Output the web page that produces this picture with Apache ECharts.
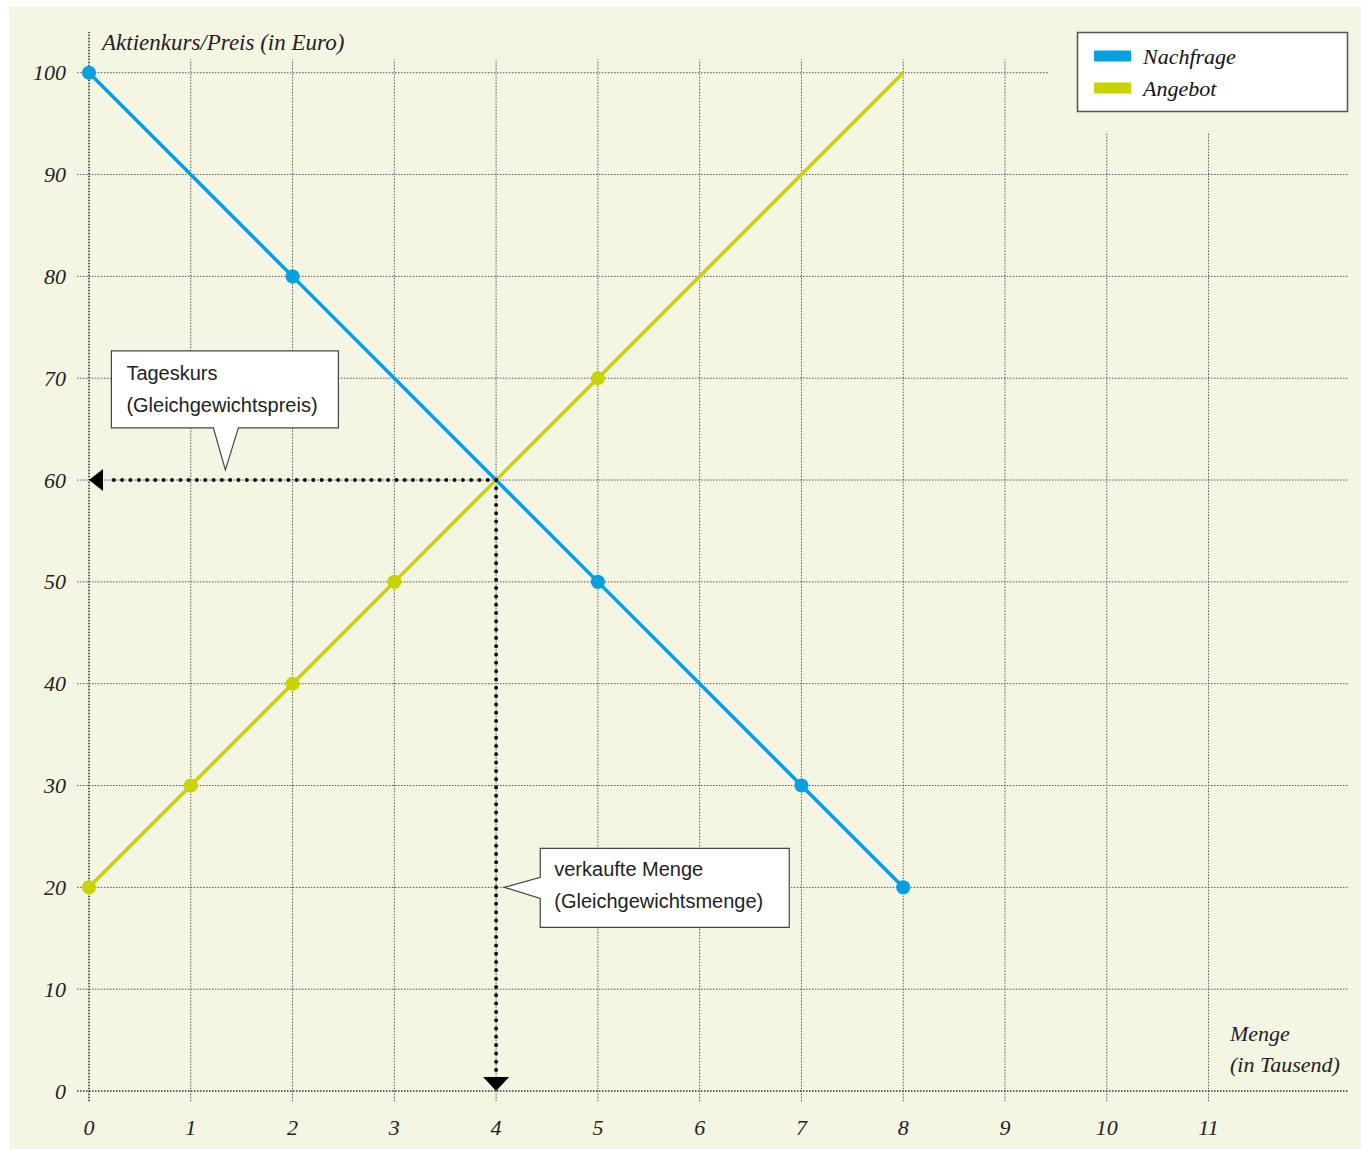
<!DOCTYPE html>
<html><head><meta charset="utf-8">
<script src="https://cdn.jsdelivr.net/npm/echarts@6/dist/echarts.min.js"></script>
<style>html,body{margin:0;padding:0;background:#fff}#c{width:1361px;height:1149px}</style>
</head><body><div id="c"></div>
<script>
// ---- data ----
const seriesNames = ['Nachfrage', 'Angebot'];
const demandQty = [0, 2, 5, 7, 8];
const demandPrice = [100, 80, 50, 30, 20];
const supplyQty = [0, 1, 2, 3, 5, 8];
const supplyPrice = [20, 30, 40, 50, 70, 100];
const supplyMarked = [true, true, true, true, true, false];
const xTicks = [0, 1, 2, 3, 4, 5, 6, 7, 8, 9, 10, 11];
const yTicks = [0, 10, 20, 30, 40, 50, 60, 70, 80, 90, 100];
const equilibrium = [4, 60];
const calloutAnchors = [[1.34, 61], [4.08, 20]];
const calloutTexts = [['Tageskurs', '(Gleichgewichtspreis)'], ['verkaufte Menge', '(Gleichgewichtsmenge)']];
const xName = 'Menge\n(in Tausend)';
const yName = 'Aktienkurs/Preis (in Euro)';

// ---- layout / style ----
const X_MAX = 12.38, Y_MAX = 104;
const BEIGE = '#f4f5e2';
const BLUE = '#069fe0', YELLOW = '#c8d300';
const SERIF = '"Liberation Serif", "DejaVu Serif", serif';
const SANS = '"Liberation Sans", Arial, sans-serif';

const gridSegs = [];
xTicks.forEach(x => gridSegs.push([x, -1, x, x === 0 ? Y_MAX : 101.3, x === 0 ? 1 : 0]));
yTicks.forEach(y => gridSegs.push([-0.118, y, X_MAX, y, y === 0 ? 1 : 0]));

const arrowSegs = [
  [equilibrium[0], equilibrium[1], 0, equilibrium[1]],
  [equilibrium[0], equilibrium[1], equilibrium[0], 0]
];

// callout geometry relative to pointer tip (pixels)
const calloutGeom = [
  { pts: [[-114,-119],[113,-119],[113,-42],[13,-42],[0,0],[-12,-42],[-114,-42]], tx: -99, ty: -113 },
  { pts: [[36,-39],[285,-39],[285,40],[36,40],[36,11],[0,0],[36,-10]], tx: 50, ty: -34 }
];

const chart = echarts.init(document.getElementById('c'), null, { renderer: 'svg' });
chart.setOption({
  backgroundColor: '#ffffff',
  animation: false,
  graphic: [
    { type: 'rect', z: -10, shape: { x: 9, y: 7, width: 1352, height: 1142 }, style: { fill: BEIGE }, silent: true },
    { type: 'rect', z: 3, shape: { x: 1049, y: 8, width: 312, height: 125 }, style: { fill: BEIGE }, silent: true },
    { type: 'rect', z: 3, shape: { x: 1077.5, y: 32.5, width: 270, height: 79 }, style: { fill: '#fff', stroke: '#555', lineWidth: 1.5 }, silent: true }
  ],
  grid: { left: 89, right: 12, top: 32, bottom: 58, containLabel: false },
  legend: {
    orient: 'vertical', left: 1089, top: 40, itemGap: 10,
    itemWidth: 37, itemHeight: 11, icon: 'rect', z: 10,
    data: seriesNames,
    textStyle: { fontFamily: SERIF, fontStyle: 'italic', fontSize: 22, color: '#111', lineHeight: 22, padding: [0, 0, 0, 7] }
  },
  xAxis: {
    type: 'value', min: 0, max: X_MAX, interval: 1,
    axisLine: { show: false }, axisTick: { show: false }, splitLine: { show: false },
    axisLabel: {
      margin: 25, fontFamily: SERIF, fontStyle: 'italic', fontSize: 22, color: '#222',
      formatter: v => (v <= 11 && Number.isInteger(v)) ? String(v) : ''
    },
    name: xName, nameLocation: 'end', nameGap: -119,
    nameTextStyle: { fontFamily: SERIF, fontStyle: 'italic', fontSize: 22, color: '#222', align: 'left', verticalAlign: 'bottom', lineHeight: 31, padding: [0, 0, 11, 0] }
  },
  yAxis: {
    type: 'value', min: 0, max: Y_MAX, interval: 10,
    axisLine: { show: false }, axisTick: { show: false }, splitLine: { show: false },
    axisLabel: {
      margin: 23, fontFamily: SERIF, fontStyle: 'italic', fontSize: 22, color: '#222',
      formatter: v => (v <= 100 && v % 10 === 0) ? String(v) : ''
    },
    name: yName, nameLocation: 'end', nameGap: -10,
    nameTextStyle: { fontFamily: SERIF, fontStyle: 'italic', fontSize: 23, color: '#222', align: 'left', verticalAlign: 'middle', padding: [0, 0, 0, 13] }
  },
  series: [
    {
      type: 'custom', name: 'grid', z: 1, silent: true, clip: false,
      data: gridSegs,
      renderItem: (params, api) => {
        const a = api.coord([api.value(0), api.value(1)]);
        const b = api.coord([api.value(2), api.value(3)]);
        const ax = api.value(4) === 1;
        return { type: 'line', shape: { x1: a[0], y1: a[1], x2: b[0], y2: b[1] },
          style: { stroke: ax ? '#333' : '#555', lineWidth: ax ? 1.6 : 1, lineDash: [1.5, 1.5] } };
      }
    },
    {
      type: 'line', name: seriesNames[1], z: 2,
      data: supplyQty.map((q, i) => ({ value: [q, supplyPrice[i]], symbol: supplyMarked[i] ? 'circle' : 'none' })),
      symbol: 'circle', symbolSize: 14, showAllSymbol: true,
      color: YELLOW, lineStyle: { width: 3.5, color: YELLOW }, itemStyle: { color: YELLOW }
    },
    {
      type: 'line', name: seriesNames[0], z: 3,
      data: demandQty.map((q, i) => [q, demandPrice[i]]),
      symbol: 'circle', symbolSize: 14, showAllSymbol: true,
      color: BLUE, lineStyle: { width: 3.5, color: BLUE }, itemStyle: { color: BLUE }
    },
    {
      type: 'custom', name: 'arrows', z: 4, silent: true, clip: false,
      data: arrowSegs,
      renderItem: (params, api) => {
        const a = api.coord([api.value(0), api.value(1)]);
        const b = api.coord([api.value(2), api.value(3)]);
        const dx = Math.sign(b[0] - a[0]), dy = Math.sign(b[1] - a[1]);
        const head = 14, half = dx !== 0 ? 11 : 13;
        const base = [b[0] - dx * head, b[1] - dy * head];
        const px = -dy, py = dx;
        return { type: 'group', children: [
          { type: 'line', shape: { x1: a[0], y1: a[1], x2: base[0] - dx * 6, y2: base[1] - dy * 6 },
            style: { stroke: '#111', lineWidth: 4, lineDash: [0.01, 8.3], lineCap: 'round' } },
          { type: 'polygon', shape: { points: [b, [base[0] + px * half, base[1] + py * half], [base[0] - px * half, base[1] - py * half]] },
            style: { fill: '#000' } }
        ] };
      }
    },
    {
      type: 'custom', name: 'callouts', z: 6, silent: true, clip: false,
      data: calloutAnchors,
      renderItem: (params, api) => {
        const i = params.dataIndex;
        const t = api.coord([api.value(0), api.value(1)]);
        const g = calloutGeom[i];
        return { type: 'group', children: [
          { type: 'polygon', shape: { points: g.pts.map(p => [t[0] + p[0], t[1] + p[1]]) },
            style: { fill: '#fff', stroke: '#444', lineWidth: 1.2 } },
          { type: 'text', style: { text: calloutTexts[i].join('\n'), x: t[0] + g.tx, y: t[1] + g.ty,
            font: '20px ' + SANS, fill: '#222', lineHeight: 32, verticalAlign: 'top', align: 'left' } }
        ] };
      }
    }
  ]
});
</script></body></html>
